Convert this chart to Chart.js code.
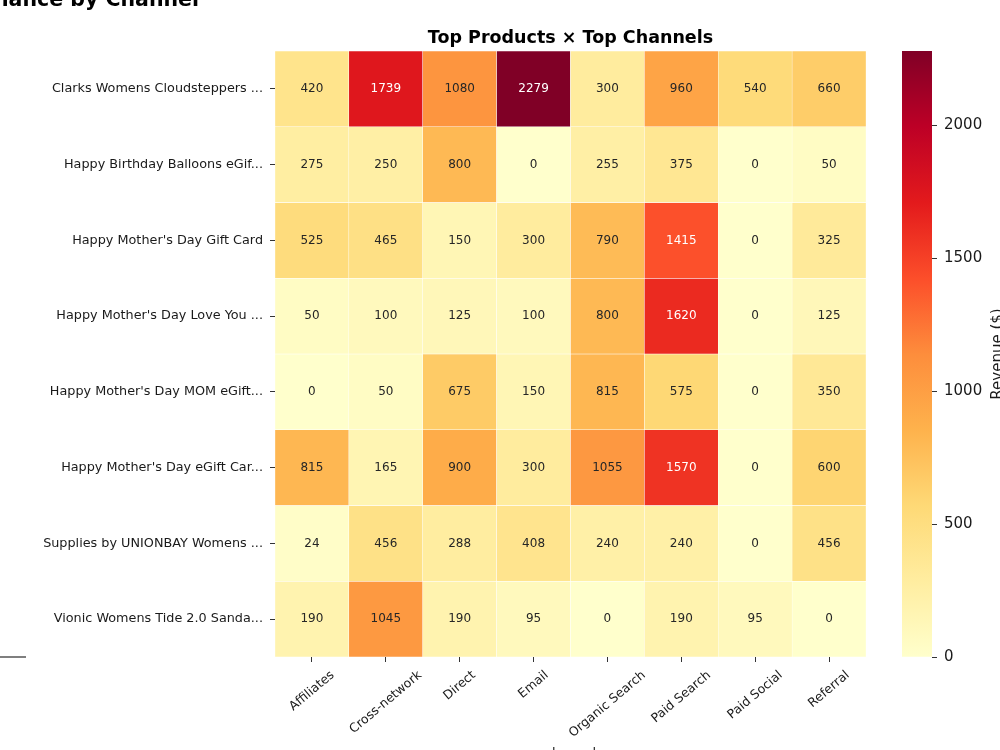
<!DOCTYPE html>
<html>
<head>
<meta charset="utf-8">
<script src="https://cdn.jsdelivr.net/npm/chart.js@4"></script>
<style>
  html, body { margin: 0; padding: 0; background: #fff; }
  #wrap { position: relative; width: 1000px; height: 750px; overflow: hidden; }
  #heat { position: absolute; left: 0; top: 0; }
  #cbar { position: absolute; left: 880px; top: 0; }
</style>
</head>
<body>
<div id="wrap">
  <canvas id="heat" width="1000" height="750"></canvas>
  <canvas id="cbar" width="120" height="750"></canvas>
</div>
<script>
// ── Données ─────────────────────────────────────────────────────────
const channels = ["Affiliates", "Cross-network", "Direct", "Email",
                  "Organic Search", "Paid Search", "Paid Social", "Referral"];

const products = [
  "Clarks Womens Cloudsteppers ...",
  "Happy Birthday Balloons eGif...",
  "Happy Mother's Day Gift Card",
  "Happy Mother's Day Love You ...",
  "Happy Mother's Day MOM eGift...",
  "Happy Mother's Day eGift Car...",
  "Supplies by UNIONBAY Womens ...",
  "Vionic Womens Tide 2.0 Sanda...",
];

// une ligne par produit, une colonne par canal
const clarks      = [420, 1739, 1080, 2279, 300, 960, 540, 660];
const birthday    = [275, 250, 800, 0, 255, 375, 0, 50];
const giftCard    = [525, 465, 150, 300, 790, 1415, 0, 325];
const loveYou     = [50, 100, 125, 100, 800, 1620, 0, 125];
const momEgift    = [0, 50, 675, 150, 815, 575, 0, 350];
const egiftCard   = [815, 165, 900, 300, 1055, 1570, 0, 600];
const unionbay    = [24, 456, 288, 408, 240, 240, 0, 456];
const vionic      = [190, 1045, 190, 95, 0, 190, 95, 0];
const revenue = [clarks, birthday, giftCard, loveYou, momEgift, egiftCard, unionbay, vionic];

const cbarTicks = [0, 500, 1000, 1500, 2000];

const VMIN = 0;
const VMAX = Math.max(...revenue.flat());

// ── Palette YlOrRd ──────────────────────────────────────────────────
const YLORRD = ["#ffffcc", "#ffeda0", "#fed976", "#feb24c", "#fd8d3c",
                "#fc4e2a", "#e31a1c", "#bd0026", "#800026"];

function hexToRgb(h) {
  return [1, 3, 5].map((i) => parseInt(h.slice(i, i + 2), 16));
}

function colorRgb(v) {
  const t = Math.min(1, Math.max(0, (v - VMIN) / (VMAX - VMIN)));
  const pos = t * (YLORRD.length - 1);
  const i = Math.min(YLORRD.length - 2, Math.floor(pos));
  const f = pos - i;
  const a = hexToRgb(YLORRD[i]), b = hexToRgb(YLORRD[i + 1]);
  return a.map((c, k) => Math.round(c + (b[k] - c) * f));
}

function colorFor(v) {
  const [r, g, b] = colorRgb(v);
  return `rgb(${r},${g},${b})`;
}

// même règle que seaborn pour la couleur des annotations
function textColorFor(v) {
  const lin = colorRgb(v).map((c) => {
    c /= 255;
    return c <= 0.03928 ? c / 12.92 : Math.pow((c + 0.055) / 1.055, 2.4);
  });
  const lum = 0.2126 * lin[0] + 0.7152 * lin[1] + 0.0722 * lin[2];
  return lum > 0.408 ? "#262626" : "#ffffff";
}

const FONT = "'DejaVu Sans', sans-serif";
const TEXT = "#1a1a1a";

// ── Heatmap ─────────────────────────────────────────────────────────
const heatDecor = {
  id: "heatDecor",
  afterDatasetsDraw(chart) {
    const { ctx, chartArea, scales } = chart;
    const xs = scales.x, ys = scales.y;
    ctx.save();

    // annotations des cellules
    ctx.font = `12px ${FONT}`;
    ctx.textAlign = "center";
    ctx.textBaseline = "middle";
    revenue.forEach((row, r) => {
      row.forEach((v, c) => {
        ctx.fillStyle = textColorFor(v);
        ctx.fillText(String(v), xs.getPixelForValue(c), ys.getPixelForValue(r));
      });
    });

    // libellés des canaux, inclinés, centrés sur la graduation
    const ang = 40 * Math.PI / 180;
    ctx.font = `12.5px ${FONT}`;
    ctx.fillStyle = TEXT;
    channels.forEach((lab, c) => {
      const w = ctx.measureText(lab).width;
      const h = 12;
      const bboxH = w * Math.sin(ang) + h * Math.cos(ang);
      const x = xs.getPixelForValue(c);
      const y = chartArea.bottom + 12 + bboxH / 2;
      ctx.save();
      ctx.translate(x, y);
      ctx.rotate(-ang);
      ctx.fillText(lab, 0, 0);
      ctx.restore();
    });

    // titre de l'axe x (coupé en bas de l'image)
    ctx.font = `13px ${FONT}`;
    ctx.textBaseline = "alphabetic";
    ctx.fillText("channel", (chartArea.left + chartArea.right) / 2, chartArea.bottom + 100);

    // titre du sous-graphe
    ctx.font = `bold 17.5px ${FONT}`;
    ctx.fillStyle = "#000";
    ctx.fillText("Top Products × Top Channels", (chartArea.left + chartArea.right) / 2, chartArea.top - 8);

    // titre général, coupé à gauche
    ctx.font = `bold 20.5px ${FONT}`;
    ctx.textAlign = "right";
    ctx.fillText("Revenue Performance by Channel", 199, 6);

    // reste de l'axe du graphique voisin
    ctx.strokeStyle = "#555";
    ctx.lineWidth = 1.5;
    ctx.beginPath();
    ctx.moveTo(0, chartArea.bottom);
    ctx.lineTo(26, chartArea.bottom);
    ctx.stroke();

    ctx.restore();
  },
};

new Chart(document.getElementById("heat"), {
  type: "bar",
  data: {
    labels: channels,
    datasets: revenue.map((row, r) => ({
      label: products[r],
      data: channels.map(() => [r - 0.5, r + 0.5]),
      backgroundColor: row.map(colorFor),
      borderColor: "#ffffff",
      borderWidth: 0.5,
      borderSkipped: false,
      barPercentage: 1,
      categoryPercentage: 1,
    })),
  },
  options: {
    responsive: false,
    animation: false,
    layout: { padding: { left: 0, top: 51, right: 134, bottom: 0 } },
    plugins: { legend: { display: false }, tooltip: { enabled: false } },
    scales: {
      x: {
        stacked: true,
        offset: true,
        afterFit: (s) => { s.height = 93; },
        grid: { drawOnChartArea: false, offset: false, tickLength: 5, tickColor: "#333", tickWidth: 1 },
        border: { display: false },
        ticks: { display: false },
      },
      y: {
        type: "linear",
        reverse: true,
        min: -0.5,
        max: 7.5,
        afterBuildTicks: (s) => { s.ticks = products.map((_, i) => ({ value: i })); },
        afterFit: (s) => { s.width = 275; },
        grid: { drawOnChartArea: false, tickLength: 5, tickColor: "#333", tickWidth: 1 },
        border: { display: false },
        ticks: {
          autoSkip: false,
          padding: 7,
          color: TEXT,
          font: { family: FONT, size: 12.8 },
          callback: (v) => products[v] ?? "",
        },
      },
    },
  },
  plugins: [heatDecor],
});

// ── Barre de couleur ────────────────────────────────────────────────
function cbarGradient(ctx) {
  const area = ctx.chart.chartArea;
  if (!area) return YLORRD[0];
  const g = ctx.chart.ctx.createLinearGradient(0, area.bottom, 0, area.top);
  YLORRD.forEach((c, i) => g.addColorStop(i / (YLORRD.length - 1), c));
  return g;
}

const cbarLabel = {
  id: "cbarLabel",
  afterDraw(chart) {
    const { ctx, chartArea } = chart;
    ctx.save();
    ctx.translate(122, (chartArea.top + chartArea.bottom) / 2);
    ctx.rotate(-Math.PI / 2);
    ctx.font = `15px ${FONT}`;
    ctx.fillStyle = TEXT;
    ctx.textAlign = "center";
    ctx.textBaseline = "alphabetic";
    ctx.fillText("Revenue ($)", 0, 0);
    ctx.restore();
  },
};

new Chart(document.getElementById("cbar"), {
  type: "bar",
  data: {
    labels: [""],
    datasets: [{
      data: [[VMIN, VMAX]],
      backgroundColor: cbarGradient,
      borderWidth: 0,
      barPercentage: 1,
      categoryPercentage: 1,
    }],
  },
  options: {
    responsive: false,
    animation: false,
    layout: { padding: { left: 22, top: 51, right: 0, bottom: 93 } },
    plugins: { legend: { display: false }, tooltip: { enabled: false } },
    scales: {
      x: { display: false },
      y: {
        position: "right",
        min: VMIN,
        max: VMAX,
        afterBuildTicks: (s) => { s.ticks = cbarTicks.map((v) => ({ value: v })); },
        afterFit: (s) => { s.width = 68; },
        grid: { drawOnChartArea: false, tickLength: 5, tickColor: "#333", tickWidth: 1 },
        border: { display: false },
        ticks: {
          padding: 7,
          color: TEXT,
          font: { family: FONT, size: 15 },
          callback: (v) => String(v),
        },
      },
    },
  },
  plugins: [cbarLabel],
});
</script>
</body>
</html>
